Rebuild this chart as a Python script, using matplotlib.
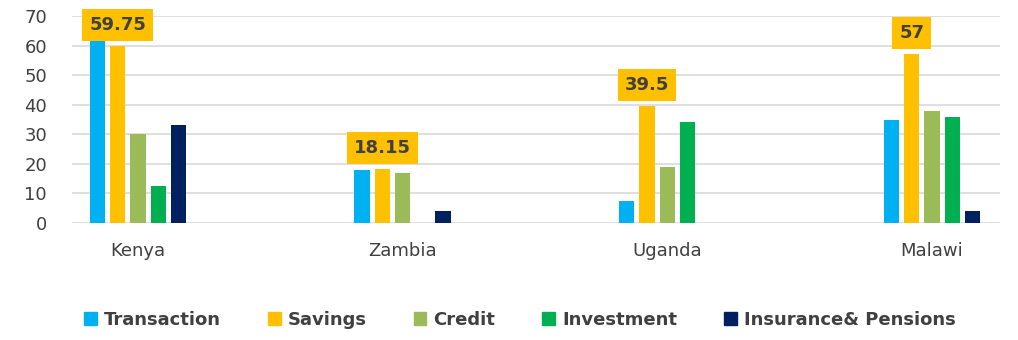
import numpy as np
import matplotlib.pyplot as plt
from matplotlib.patches import Patch

countries = ["Kenya", "Zambia", "Uganda", "Malawi"]
series = ["Transaction", "Savings", "Credit", "Investment", "Insurance& Pensions"]
colors = ["#00B0F0", "#FFC000", "#9BBB59", "#00B050", "#002060"]

transaction = [62, 18, 7.5, 35]
savings = [59.75, 18.15, 39.5, 57]
credit = [30, 17, 19, 38]
investment = [12.5, 0, 34, 36]
insurance = [33, 4, 0, 4]

values = [transaction, savings, credit, investment, insurance]
savings_labels = ["59.75", "18.15", "39.5", "57"]

text_color = "#404040"

fig = plt.figure(figsize=(10.18, 3.4), dpi=100)
ax = fig.add_axes([72 / 1018, 117 / 340, 928 / 1018, 207 / 340])

x = np.arange(len(countries))
step = 0.0766
width = 0.058
for i, (name, vals, col) in enumerate(zip(series, values, colors)):
    offs = (i - 2) * step
    ax.bar(x + offs, vals, width, color=col, label=name, zorder=3)

# value boxes above the savings bars
for xi, v, lab in zip(x, savings, savings_labels):
    ax.annotate(lab, (xi - step, v), xytext=(0, 8.8), textcoords="offset points",
                ha="center", va="bottom", fontsize=13, fontweight="bold",
                color=text_color, zorder=5,
                bbox=dict(boxstyle="square,pad=0.4", fc="#FFC000", ec="none"))

ax.set_ylim(0, 70)
ax.set_yticks(range(0, 71, 10))
ax.set_xlim(-0.249, 3.257)
ax.set_xticks(x)
ax.set_xticklabels(countries)
ax.yaxis.grid(True, color="#D9D9D9", linewidth=1.2, zorder=0)
ax.set_axisbelow(True)
for s in ax.spines.values():
    s.set_visible(False)
ax.tick_params(axis="y", length=0, pad=18, labelsize=13, labelcolor=text_color)
ax.tick_params(axis="x", length=0, pad=14, labelsize=13, labelcolor=text_color)

handles = [Patch(color=c, label=n) for n, c in zip(series, colors)]
fig.legend(handles=handles, loc="center", bbox_to_anchor=(520 / 1018, 1 - 320 / 340),
           ncol=5, frameon=False, handlelength=0.7, handleheight=0.7,
           handletextpad=0.4, columnspacing=2.6, labelcolor=text_color,
           prop={"weight": "bold", "size": 13})

fig.savefig("out.png", dpi=100)
